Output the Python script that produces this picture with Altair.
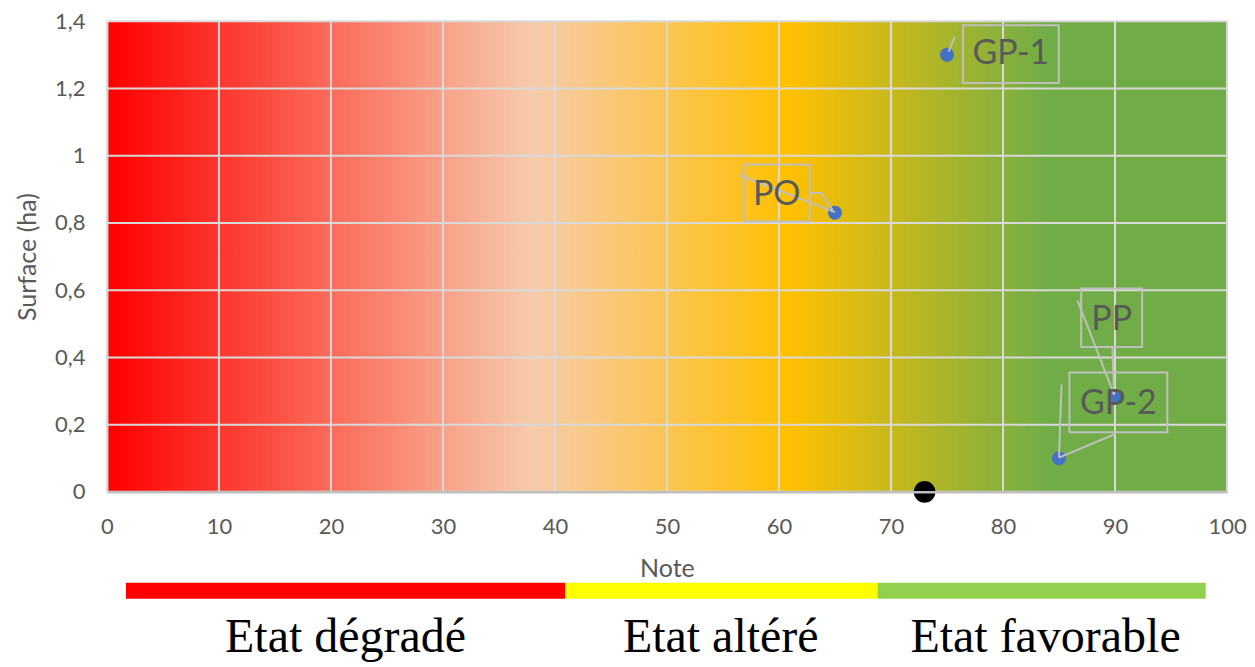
import altair as alt
import pandas as pd

# --- data ---
names = ["GP-1", "PO", "PP", "GP-2"]
note = [75, 65, 90, 85]
surface = [1.30, 0.83, 0.28, 0.10]

black_note = [73]
black_surface = [0]

# label boxes (centre, half-width, half-height in data units)
lbl_x = [80.7, 59.8, 89.7, 90.3]
lbl_y = [1.302, 0.889, 0.518, 0.266]
lbl_hw = [4.28, 2.95, 2.72, 4.37]
lbl_hh = [0.086, 0.085, 0.087, 0.089]
txt_y = [1.302, 0.882, 0.512, 0.260]

# leader lines (data units)
lead_x1 = [75.15, 56.5, 62.8, 63.8, 86.65, 89.77, 85.22, 85.0]
lead_y1 = [1.310, 0.942, 0.889, 0.889, 0.570, 0.432, 0.319, 0.102]
lead_x2 = [75.70, 65.0, 63.8, 64.8, 89.92, 89.92, 85.00, 90.07]
lead_y2 = [1.355, 0.832, 0.889, 0.837, 0.289, 0.289, 0.102, 0.173]

x_grid = [0, 10, 20, 30, 40, 50, 60, 70, 80, 90, 100]
y_grid = [0, 0.2, 0.4, 0.6, 0.8, 1.0, 1.2, 1.4]

etat_labels = ["Etat dégradé", "Etat altéré", "Etat favorable"]
etat_start = [1.7, 40.9, 68.8]
etat_end = [40.9, 68.8, 98.1]
etat_colors = ["#FF0000", "#FFFF00", "#92D050"]
etat_text_x = [21.3, 54.8, 83.8]

W, H = 1121, 471

xs = alt.Scale(domain=[0, 100], nice=False)
ys = alt.Scale(domain=[0, 1.4], nice=False)

pts = pd.DataFrame({"name": names, "note": note, "surface": surface})
lbl = pd.DataFrame({
    "name": names,
    "cx": lbl_x, "cy": lbl_y, "ty": txt_y,
    "x1": [a - b for a, b in zip(lbl_x, lbl_hw)],
    "x2": [a + b for a, b in zip(lbl_x, lbl_hw)],
    "y1": [a - b for a, b in zip(lbl_y, lbl_hh)],
    "y2": [a + b for a, b in zip(lbl_y, lbl_hh)],
})
lead = pd.DataFrame({"x1": lead_x1, "y1": lead_y1, "x2": lead_x2, "y2": lead_y2})
blk = pd.DataFrame({"note": black_note, "surface": black_surface})
bg = pd.DataFrame({"x1": [0], "x2": [100], "y1": [0], "y2": [1.4]})
vg = pd.DataFrame({"x": x_grid})
hg = pd.DataFrame({"y": y_grid})

grad = alt.Gradient(
    gradient="linear",
    stops=[
        alt.GradientStop(color="#FF0000", offset=0),
        alt.GradientStop(color="#F6CBAC", offset=0.38),
        alt.GradientStop(color="#FFC000", offset=0.61),
        alt.GradientStop(color="#70AD47", offset=0.84),
        alt.GradientStop(color="#70AD47", offset=1),
    ],
    x1=0, x2=1, y1=0, y2=0,
)

xaxis = alt.Axis(title="Note", values=x_grid, grid=False, ticks=False,
                 labelPadding=25, titlePadding=19, labelFlush=False,
                 domainColor="#BFBFBF", domainWidth=2.5, zindex=1)
yaxis = alt.Axis(title="Surface (ha)", values=y_grid, grid=False, ticks=False,
                 labelPadding=22, titlePadding=14, domainColor="#D9D9D9",
                 domainWidth=2, zindex=1,
                 labelExpr="replace(format(datum.value, '.2~f'), '.', ',')")

background = alt.Chart(bg).mark_rect(fill=grad).encode(
    x=alt.X("x1:Q", scale=xs, axis=xaxis),
    x2="x2:Q",
    y=alt.Y("y1:Q", scale=ys, axis=yaxis),
    y2="y2:Q",
)

vgrid = alt.Chart(vg).mark_rule(color="#D9D9D9", strokeWidth=2).encode(
    x=alt.X("x:Q", scale=xs)
)
hgrid = alt.Chart(hg).mark_rule(color="#D9D9D9", strokeWidth=2).encode(
    y=alt.Y("y:Q", scale=ys)
)

points = alt.Chart(pts).mark_circle(color="#4472C4", opacity=1, size=200).encode(
    x=alt.X("note:Q", scale=xs), y=alt.Y("surface:Q", scale=ys)
)

leaders = alt.Chart(lead).mark_rule(color="#BFBFBF", strokeWidth=2).encode(
    x=alt.X("x1:Q", scale=xs), y=alt.Y("y1:Q", scale=ys), x2="x2:Q", y2="y2:Q"
)

boxes = alt.Chart(lbl).mark_rect(fillOpacity=0, stroke="#BFBFBF", strokeWidth=2).encode(
    x=alt.X("x1:Q", scale=xs), x2="x2:Q", y=alt.Y("y1:Q", scale=ys), y2="y2:Q"
)

texts = alt.Chart(lbl).mark_text(font="Lato", fontSize=34, color="#595959",
                                 align="center", baseline="middle").encode(
    x=alt.X("cx:Q", scale=xs), y=alt.Y("ty:Q", scale=ys), text="name:N"
)

black = alt.Chart(blk).mark_circle(color="#000000", opacity=1, size=470).encode(
    x=alt.X("note:Q", scale=xs), y=alt.Y("surface:Q", scale=ys)
)

top = alt.layer(background, vgrid, hgrid, points, leaders, boxes, texts, black).properties(
    width=W, height=H
)

# bottom status bar
etat = pd.DataFrame({
    "label": etat_labels, "start": etat_start, "end": etat_end,
    "color": etat_colors, "tx": etat_text_x,
    "b0": [0, 0, 0], "b1": [1, 1, 1], "ty": [4.3, 4.3, 4.3],
})
bs_y = alt.Scale(domain=[0, 5], reverse=True, nice=False)

bar = alt.Chart(etat).mark_rect().encode(
    x=alt.X("start:Q", scale=xs, axis=None),
    x2="end:Q",
    y=alt.Y("b0:Q", scale=bs_y, axis=None),
    y2="b1:Q",
    color=alt.Color("color:N", scale=None),
)
btxt = alt.Chart(etat).mark_text(font="Liberation Serif", fontSize=48, color="#000000",
                                 align="center", baseline="alphabetic").encode(
    x=alt.X("tx:Q", scale=xs, axis=None),
    y=alt.Y("ty:Q", scale=bs_y, axis=None),
    text="label:N",
)
bottom = alt.layer(bar, btxt).properties(width=W, height=80)

chart = alt.vconcat(top, bottom, spacing=1).configure_view(stroke=None).configure_axis(
    labelFont="Lato", labelFontSize=22, labelColor="#595959",
    titleFont="Lato", titleFontSize=25, titleColor="#595959", titleFontWeight="normal",
).properties(padding={"left": 7, "top": 2, "right": 0, "bottom": 0})

chart.save("out.html", embed_options={"renderer": "svg", "actions": False})
